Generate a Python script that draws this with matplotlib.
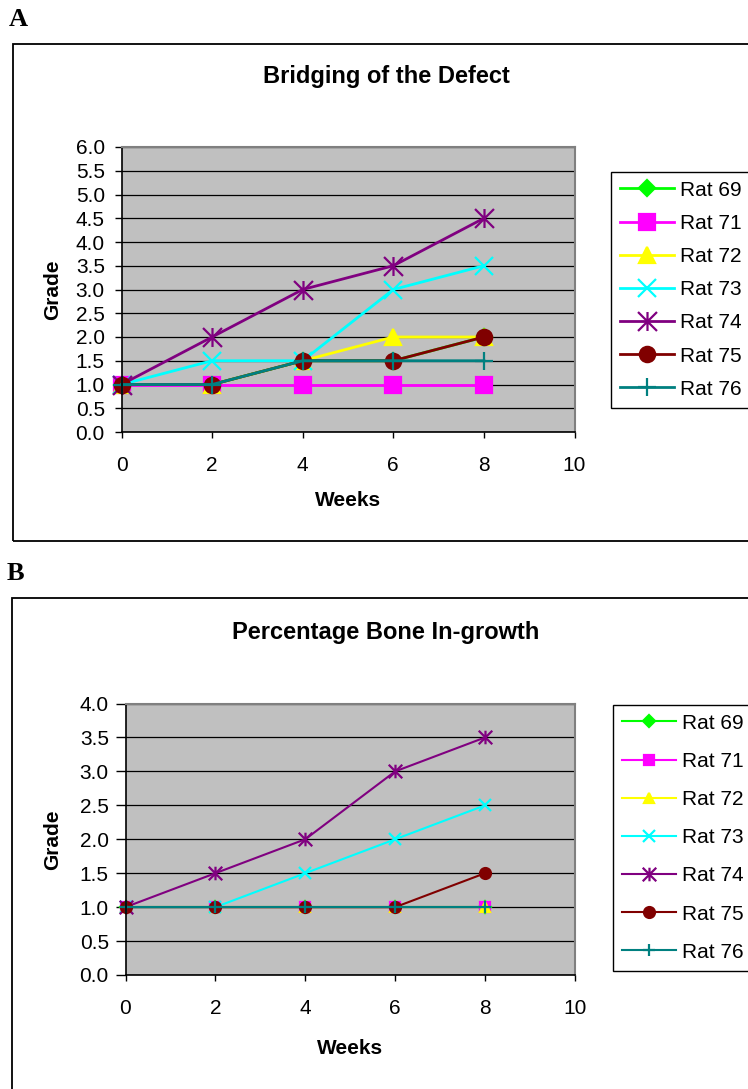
import numpy as np
import matplotlib
matplotlib.use("Agg")
import matplotlib.pyplot as plt
from matplotlib.patches import Rectangle
from matplotlib.path import Path
from matplotlib.ticker import FormatStrFormatter

plt.rcParams['font.family'] = ['Liberation Sans', 'DejaVu Sans']

# ---------------------------------------------------------------------
# data
# ---------------------------------------------------------------------
weeks = [0, 2, 4, 6, 8]
rats = ['Rat 69', 'Rat 71', 'Rat 72', 'Rat 73', 'Rat 74', 'Rat 75', 'Rat 76']

bridging = {
    'Rat 69': [1.0, 1.0, 1.5, 1.5, 2.0],
    'Rat 71': [1.0, 1.0, 1.0, 1.0, 1.0],
    'Rat 72': [1.0, 1.0, 1.5, 2.0, 2.0],
    'Rat 73': [1.0, 1.5, 1.5, 3.0, 3.5],
    'Rat 74': [1.0, 2.0, 3.0, 3.5, 4.5],
    'Rat 75': [1.0, 1.0, 1.5, 1.5, 2.0],
    'Rat 76': [1.0, 1.0, 1.5, 1.5, 1.5],
}
ingrowth = {
    'Rat 69': [1.0, 1.0, 1.0, 1.0, 1.0],
    'Rat 71': [1.0, 1.0, 1.0, 1.0, 1.0],
    'Rat 72': [1.0, 1.0, 1.0, 1.0, 1.0],
    'Rat 73': [1.0, 1.0, 1.5, 2.0, 2.5],
    'Rat 74': [1.0, 1.5, 2.0, 3.0, 3.5],
    'Rat 75': [1.0, 1.0, 1.0, 1.0, 1.5],
    'Rat 76': [1.0, 1.0, 1.0, 1.0, 1.0],
}

# excel style asterisk: vertical bar + X
star = Path([(0, -1), (0, 1), (-1, -1), (1, 1), (-1, 1), (1, -1)],
            [Path.MOVETO, Path.LINETO, Path.MOVETO, Path.LINETO,
             Path.MOVETO, Path.LINETO])

styles = {
    'Rat 69': dict(color='#00FF00', marker='D', ms_scale=0.8),
    'Rat 71': dict(color='#FF00FF', marker='s', ms_scale=1.05),
    'Rat 72': dict(color='#FFFF00', marker='^', ms_scale=1.05),
    'Rat 73': dict(color='#00FFFF', marker='x', ms_scale=1.2),
    'Rat 74': dict(color='#800080', marker=star, ms_scale=1.3),
    'Rat 75': dict(color='#800000', marker='o', ms_scale=1.05),
    'Rat 76': dict(color='#008080', marker='+', ms_scale=1.2),
}

W, H = 748, 1089
fig = plt.figure(figsize=(W / 100, H / 100), dpi=100)


def px_rect(x0, y0, x1, y1):
    return [x0 / W, 1 - y1 / H, (x1 - x0) / W, (y1 - y0) / H]


def panel(data, ax_px, box_px, letter_xy, title, title_y, ymax,
          lw, ms, grade_x, weeks_y, leg_xy, leg_spacing, ylen, ypad):
    # outer frame of the excel chart
    bx0, by0, bx1, by1 = box_px
    fig.patches.append(Rectangle((bx0 / W, 1 - by1 / H), (bx1 - bx0) / W,
                                 (by1 - by0) / H, transform=fig.transFigure,
                                 fill=False, edgecolor='black', lw=1.3))
    fig.text(letter_xy[0] / W, 1 - letter_xy[1] / H, letter_xy[2],
             family='Liberation Serif', fontweight='bold', fontsize=19,
             ha='left', va='center')
    fig.text(386 / W, 1 - title_y / H, title, fontsize=17,
             fontweight='bold', ha='center', va='center')

    ax = fig.add_axes(px_rect(*ax_px))
    ax.set_facecolor('#C0C0C0')
    for name in rats:
        st = styles[name]
        ax.plot(weeks, data[name], color=st['color'], lw=lw,
                marker=st['marker'], markersize=ms * st['ms_scale'],
                markerfacecolor=st['color'], markeredgecolor=st['color'],
                markeredgewidth=1.6, label=name, clip_on=False)

    ax.set_xlim(0, 10)
    ax.set_ylim(0, ymax)
    ax.set_xticks(np.arange(0, 11, 2))
    ax.set_yticks(np.arange(0, ymax + 0.01, 0.5))
    ax.yaxis.set_major_formatter(FormatStrFormatter('%.1f'))
    ax.yaxis.grid(True, color='black', lw=0.9)
    ax.set_axisbelow(True)
    ax.tick_params(axis='y', labelsize=15, length=ylen, width=1, pad=ypad)
    ax.tick_params(axis='x', labelsize=15, length=4.5, width=1, pad=12.5)
    for s in ['left', 'bottom']:
        ax.spines[s].set_color('black')
        ax.spines[s].set_linewidth(1.2)
    for s in ['top', 'right']:
        ax.spines[s].set_color('#808080')
        ax.spines[s].set_linewidth(1.5)

    fig.text(grade_x / W, 1 - (ax_px[1] + ax_px[3]) / 2 / H, 'Grade',
             rotation=90, fontsize=15, fontweight='bold',
             ha='center', va='center')
    fig.text((ax_px[0] + ax_px[2]) / 2 / W, 1 - weeks_y / H, 'Weeks',
             fontsize=15, fontweight='bold', ha='center', va='center')

    leg = ax.legend(loc='upper left',
                    bbox_to_anchor=(leg_xy[0] / W, 1 - leg_xy[1] / H),
                    bbox_transform=fig.transFigure, fontsize=15,
                    fancybox=False, frameon=True, edgecolor='black',
                    framealpha=1, borderpad=0.42, handlelength=2.6,
                    handletextpad=0.3, labelspacing=leg_spacing,
                    borderaxespad=0)
    leg.get_frame().set_linewidth(1.0)
    return ax


panel(bridging, (121.5, 147, 574.5, 432), (13, 44, 760, 541),
      (9, 20, 'A'), 'Bridging of the Defect', 77, 6.0,
      lw=2.0, ms=10.5, grade_x=53, weeks_y=501, leg_xy=(611, 172),
      leg_spacing=0.68, ylen=5, ypad=7)

panel(ingrowth, (125.5, 703.5, 575, 975), (12, 598, 760, 1110),
      (7, 573, 'B'), 'Percentage Bone In-growth', 633, 4.0,
      lw=1.5, ms=7.5, grade_x=53, weeks_y=1048, leg_xy=(613, 705),
      leg_spacing=0.92, ylen=7.5, ypad=4.5)

fig.savefig('out.png', dpi=100)
